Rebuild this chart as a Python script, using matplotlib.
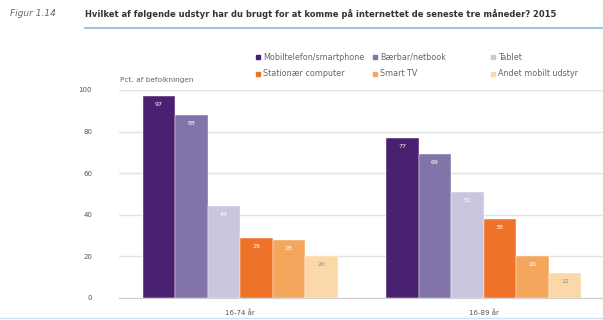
import matplotlib
matplotlib.use("Agg")
import matplotlib.pyplot as plt
import numpy as np
from matplotlib.patches import Rectangle
from matplotlib.lines import Line2D

categories = ["16-74 år", "16-89 år"]
series_names = ["Mobiltelefon/smartphone", "Bærbar/netbook", "Tablet",
                "Stationær computer", "Smart TV", "Andet mobilt udstyr"]
values = {
    "Mobiltelefon/smartphone": [97, 77],
    "Bærbar/netbook": [88, 69],
    "Tablet": [44, 51],
    "Stationær computer": [29, 38],
    "Smart TV": [28, 20],
    "Andet mobilt udstyr": [20, 12],
}
colors = ["#4a2170", "#8274a8", "#cac6e0", "#ee7328", "#f4a75c", "#fbd8a8"]
label_colors = ["white", "white", "white", "white", "white", "#8a8a8a"]
yticks = [0, 20, 40, 60, 80, 100]

fig = plt.figure(figsize=(6.03, 3.2), dpi=100)
ax = fig.add_axes([118.5/603, 22/320, (603-118.5)/603, 208/320])

x = np.arange(len(categories))
w = 0.8/6
for i, name in enumerate(series_names):
    pos = x - 0.4 + w*(i+0.5)
    bars = ax.bar(pos, values[name], width=w, color=colors[i], zorder=3,
                  edgecolor="white", linewidth=0.3)
    for b, v in zip(bars, values[name]):
        ax.text(b.get_x()+b.get_width()/2, v-4.0, f"{v}", ha="center", va="center",
                fontsize=4.5, color=label_colors[i], zorder=4)

ax.set_xlim(-0.5, 1.49)
ax.set_ylim(0, 100)
ax.set_yticks(yticks)
ax.set_yticklabels([str(t) for t in yticks], fontsize=5, color="#555555")
ax.set_xticks(x)
ax.set_xticklabels(categories, fontsize=5, color="#555555")
ax.tick_params(axis="y", length=0, pad=19)
ax.tick_params(axis="x", length=0, pad=8)
ax.grid(axis="y", color="#e3e3e3", linewidth=1.0, zorder=0)
for s in ["top", "right", "left"]:
    ax.spines[s].set_visible(False)
ax.spines["bottom"].set_color("#d0d0d0")
ax.spines["bottom"].set_zorder(5)

fig.text(120/603, 1-80/320, "Pct. af befolkningen", fontsize=5.3, color="#666666", va="center")

# Title
fig.text(10/603, 1-14/320, "Figur 1.14", fontsize=6.5, style="italic", color="#666666", va="center")
fig.text(85/603, 1-14/320,
         "Hvilket af følgende udstyr har du brugt for at komme på internettet de seneste tre måneder? 2015",
         fontsize=6.0, color="#333333", va="center", fontweight="bold")
fig.add_artist(Line2D([85/603, 1.0], [1-28/320, 1-28/320], color="#9dc3e6", linewidth=1.5))
fig.add_artist(Line2D([0.0, 1.0], [1-318/320, 1-318/320], color="#cfe3f3", linewidth=1.0))

# Legend
lx = [258, 375, 493]
ly = [57, 74]
for i, name in enumerate(series_names):
    r, c = divmod(i, 3)
    xx = lx[c]/603
    yy = 1 - ly[r]/320
    fig.add_artist(Rectangle((xx - 2/603, yy - 2/320), 4/603, 4/320, color=colors[i],
                             transform=fig.transFigure))
    fig.text(xx + 5/603, yy, name, fontsize=5.8, color="#666666", va="center")

fig.savefig("out.png", dpi=100)
